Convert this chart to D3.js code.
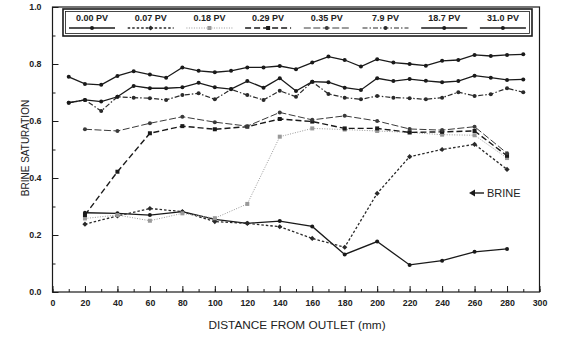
<!DOCTYPE html>
<html><head><meta charset="utf-8">
<script src="https://cdn.jsdelivr.net/npm/d3@7"></script>
<style>body{margin:0;background:#fff}svg{display:block}text{font-family:"Liberation Sans",Arial,sans-serif;fill:#222}</style>
</head><body><svg id="c" width="561" height="338"></svg>
<script>
const seriesNames = ["0.00 PV","0.07 PV","0.18 PV","0.29 PV","0.35 PV","7.9 PV","18.7 PV","31.0 PV"];
const xEven = [20,40,60,80,100,120,140,160,180,200,220,240,260,280];
const xTen = [10,20,30,40,50,60,70,80,90,100,110,120,130,140,150,160,170,180,190,200,210,220,230,240,250,260,270,280,290];
const s000 = [0.278,0.276,0.270,0.282,0.255,0.241,0.249,0.230,0.132,0.177,0.095,0.110,0.141,0.151];
const s007 = [0.238,0.267,0.293,0.282,0.247,0.241,0.229,0.188,0.157,0.346,0.475,0.500,0.518,0.430];
const s018 = [0.258,0.270,0.250,0.276,0.259,0.309,0.545,0.574,0.570,0.565,0.560,0.552,0.550,0.470];
const s029 = [0.270,0.422,0.557,0.582,0.571,0.580,0.607,0.598,0.574,0.574,0.560,0.562,0.565,0.478];
const s035 = [0.571,0.565,0.592,0.615,0.596,0.582,0.630,0.604,0.618,0.600,0.572,0.568,0.580,0.487];
const s79  = [0.664,0.674,0.635,0.685,0.682,0.680,0.674,0.691,0.697,0.676,0.711,0.691,0.674,0.706,0.685,0.738,0.695,0.682,0.676,0.688,0.682,0.680,0.676,0.682,0.701,0.688,0.694,0.715,0.701];
const s187 = [0.664,0.674,0.668,0.685,0.723,0.715,0.715,0.718,0.734,0.718,0.712,0.740,0.717,0.750,0.705,0.738,0.736,0.717,0.709,0.750,0.740,0.747,0.741,0.736,0.740,0.759,0.752,0.744,0.746];
const s310 = [0.755,0.730,0.727,0.758,0.775,0.763,0.752,0.788,0.776,0.771,0.776,0.788,0.788,0.793,0.782,0.805,0.826,0.814,0.791,0.817,0.805,0.800,0.794,0.811,0.814,0.832,0.828,0.832,0.834];
const xTicks = [0,20,40,60,80,100,120,140,160,180,200,220,240,260,280,300];
const yTicks = [0.0,0.2,0.4,0.6,0.8,1.0];

const styles = [
  {dash:null, color:"#1a1a1a", marker:"circle", w:1.3},
  {dash:"2.5,2", color:"#2a2a2a", marker:"diamond", w:1.3},
  {dash:"1,1.5", color:"#999", marker:"square", w:1},
  {dash:"6,3", color:"#1a1a1a", marker:"square", w:1.4},
  {dash:"7,2.5", color:"#3a3a3a", marker:"circle", w:1},
  {dash:"5,2,1.5,2", color:"#2a2a2a", marker:"circle", w:1.2},
  {dash:null, color:"#1a1a1a", marker:"circle", w:1.3},
  {dash:null, color:"#1a1a1a", marker:"circle", w:1.3}
];
const data = [
  [xEven,s000],[xEven,s007],[xEven,s018],[xEven,s029],[xEven,s035],[xTen,s79],[xTen,s187],[xTen,s310]
];

const svg = d3.select("#c");
const L=52.5,R=539.5,T=7,B=292;
const x = d3.scaleLinear().domain([0,300]).range([L,R]);
const y = d3.scaleLinear().domain([0,1]).range([B,T]);

svg.append("rect").attr("x",L).attr("y",T).attr("width",R-L).attr("height",B-T)
  .attr("fill","none").attr("stroke","#1a1a1a").attr("stroke-width",1.2);

const xMinor = d3.range(0,301,10);
const xa = svg.append("g").attr("transform",`translate(0,${B})`);
xa.call(d3.axisBottom(x).tickValues(xMinor).tickSize(-3).tickFormat(""));
xa.append("g").call(d3.axisBottom(x).tickValues(xTicks).tickSize(-6).tickPadding(10).tickFormat(d3.format("d")));
xa.selectAll(".domain").remove();
xa.selectAll("line").attr("stroke","#1a1a1a").attr("stroke-width",1);
xa.selectAll("text").attr("font-size",8.8).attr("font-weight","bold").attr("fill","#222").attr("dy","0.45em");

const ya = svg.append("g").attr("transform",`translate(${L},0)`);
ya.call(d3.axisLeft(y).tickValues(d3.range(0,1.01,0.1)).tickSize(-3).tickFormat(""));
ya.append("g").call(d3.axisLeft(y).tickValues(yTicks).tickSize(-6).tickPadding(11).tickFormat(d3.format(".1f")));
ya.selectAll(".domain").remove();
ya.selectAll("line").attr("stroke","#1a1a1a").attr("stroke-width",1);
ya.selectAll("text").attr("font-size",8.8).attr("font-weight","bold").attr("fill","#222");

svg.append("text").attr("x",297).attr("y",329).attr("text-anchor","middle")
  .attr("font-size",11.8).text("DISTANCE FROM OUTLET (mm)");
svg.append("text").attr("transform","translate(29,148) rotate(-90)").attr("text-anchor","middle")
  .attr("font-size",10).text("BRINE SATURATION");

function marker(g,type,cx,cy,color){
  if(type==="circle") g.append("circle").attr("cx",cx).attr("cy",cy).attr("r",2).attr("fill",color);
  else if(type==="square") g.append("rect").attr("x",cx-2).attr("y",cy-2).attr("width",4).attr("height",4).attr("fill",color);
  else g.append("path").attr("d",`M${cx},${cy-2.6}L${cx+2.6},${cy}L${cx},${cy+2.6}L${cx-2.6},${cy}Z`).attr("fill",color);
}

const line = d3.line().x(d=>x(d[0])).y(d=>y(d[1]));
data.forEach((d,i)=>{
  const pts = d[0].map((xv,j)=>[xv,d[1][j]]);
  const st = styles[i];
  const g = svg.append("g");
  g.append("path").attr("d",line(pts)).attr("fill","none").attr("stroke",st.color)
    .attr("stroke-width",st.w).attr("stroke-dasharray",st.dash);
  pts.forEach(p=>marker(g,st.marker,x(p[0]),y(p[1]),st.color));
});

const lg = svg.append("g");
lg.append("rect").attr("x",63).attr("y",9).attr("width",469).attr("height",27).attr("fill","#fff").attr("stroke","#1a1a1a").attr("stroke-width",1.6);
lg.append("rect").attr("x",65.5).attr("y",11.5).attr("width",464).attr("height",22).attr("fill","none").attr("stroke","#1a1a1a").attr("stroke-width",0.8);
seriesNames.forEach((n,i)=>{
  const cx = 92 + i*58.7;
  const st = styles[i];
  lg.append("text").attr("x",cx).attr("y",21).attr("text-anchor","middle").attr("font-size",9).attr("font-weight","bold").text(n);
  lg.append("line").attr("x1",cx-23).attr("x2",cx+23).attr("y1",28).attr("y2",28)
    .attr("stroke",st.color).attr("stroke-width",st.w).attr("stroke-dasharray",st.dash);
  marker(lg,st.marker,cx,28,st.color);
});

const an = svg.append("g");
an.append("line").attr("x1",471).attr("x2",484).attr("y1",193).attr("y2",193).attr("stroke","#1a1a1a").attr("stroke-width",1.4);
an.append("path").attr("d","M469,193L475,189.5L475,196.5Z").attr("fill","#1a1a1a");
an.append("text").attr("x",487).attr("y",197).attr("font-size",11).text("BRINE");
</script></body></html>
